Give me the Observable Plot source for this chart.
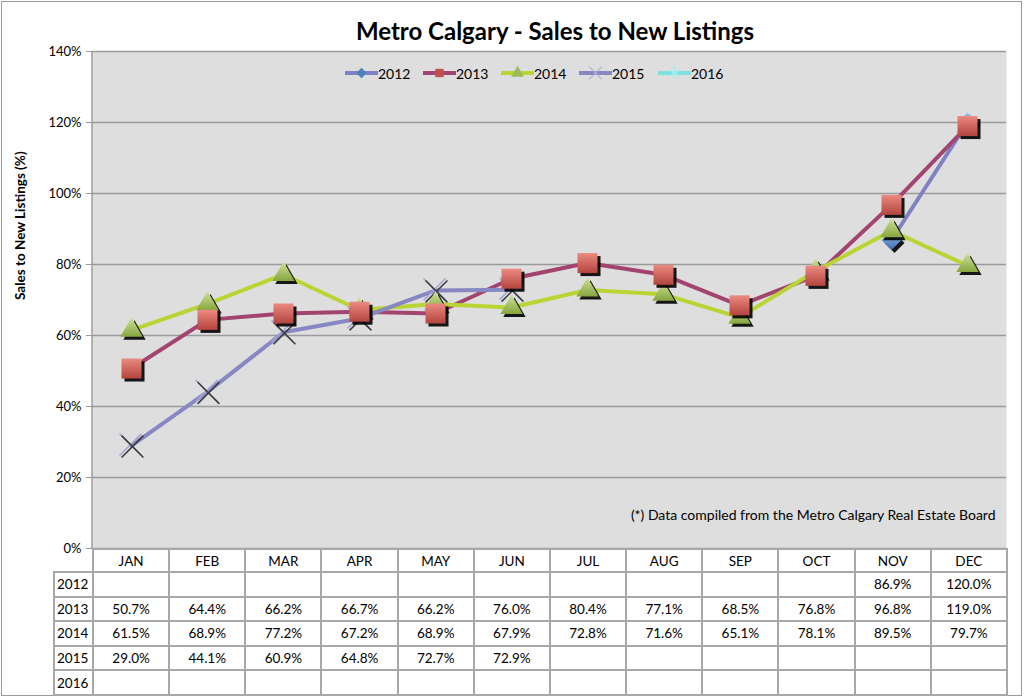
<!DOCTYPE html>
<html>
<head>
<meta charset="utf-8">
<script src="https://cdn.jsdelivr.net/npm/d3@7"></script>
<script src="https://cdn.jsdelivr.net/npm/@observablehq/plot@0.6"></script>
<style>
  html, body { margin: 0; padding: 0; background: #fff; }
  body { width: 1024px; height: 697px; position: relative; overflow: hidden; font-family: Lato, "DejaVu Sans", sans-serif; }
  #border { position: absolute; left: 1px; top: 1px; width: 1019px; height: 693px; border: 1.5px solid #9a9a9a; box-sizing: content-box; }
  #chart { position: absolute; left: 0; top: 0; }
  #title { position: absolute; left: 92px; width: 926px; top: 16px; text-align: center; font-size: 24px; font-weight: bold; color: #000; }
  #legend { position: absolute; top: 64px; left: 0; width: 1024px; height: 18px; }
  .li { position: absolute; top: 0; height: 18px; display: flex; align-items: center; font-size: 14px; color: #000; }
  .li svg { display: block; }
  #table { position: absolute; left: 53px; top: 548px; }
  table { border-collapse: collapse; table-layout: fixed; font-size: 13.5px; font-family: Lato, sans-serif; }
  td { border: 2px solid #a8a8a8; padding: 0; text-align: center; white-space: nowrap; overflow: hidden; }
  td.lab { text-align: left; padding-left: 2px; }
  td.blank { border: none; }
  tr.head td { height: 21px; }
  tr.row td { height: 22.6px; }
</style>
</head>
<body>
<div id="border"></div>
<div id="chart"></div>
<div id="title">Metro Calgary - Sales to New Listings</div>
<div id="legend"></div>
<div id="table"></div>
<script>
// ---------- data ----------
const months = ["JAN","FEB","MAR","APR","MAY","JUN","JUL","AUG","SEP","OCT","NOV","DEC"];
const years = ["2012","2013","2014","2015","2016"];
const v2012 = [null,null,null,null,null,null,null,null,null,null,86.9,120.0];
const v2013 = [50.7,64.4,66.2,66.7,66.2,76.0,80.4,77.1,68.5,76.8,96.8,119.0];
const v2014 = [61.5,68.9,77.2,67.2,68.9,67.9,72.8,71.6,65.1,78.1,89.5,79.7];
const v2015 = [29.0,44.1,60.9,64.8,72.7,72.9,null,null,null,null,null,null];
const v2016 = [null,null,null,null,null,null,null,null,null,null,null,null];
const yTicks = [0,20,40,60,80,100,120,140];
const yLabel = "Sales to New Listings (%)";
const note = "(*) Data compiled from the Metro Calgary Real Estate Board";

const seriesValues = {"2012": v2012, "2013": v2013, "2014": v2014, "2015": v2015, "2016": v2016};
const rowsOf = (y) => seriesValues[y].map((v, i) => ({month: months[i], value: v, year: y})).filter(d => d.value != null);

// ---------- styles ----------
const lineColor = {"2012": "#7f82c2", "2013": "#a2446f", "2014": "#b8d534", "2015": "#8687c3", "2016": "#7fe0e0"};
const markFill = {"2012": "#4f81bd", "2013": "#c0504d", "2014": "#9bbb59"};

const lw = 4;
const marks = [
  Plot.frame({fill: "#dedede", stroke: null}),
  Plot.gridY(yTicks, {stroke: "#9a9a9a", strokeOpacity: 1, strokeWidth: 1.5}),
  Plot.axisY(yTicks, {tickFormat: d => d + "%", tickSize: 6, tickPadding: 5, fontSize: 13, label: null, stroke: "#9a9a9a"}),
  Plot.text([yLabel], {text: d => d, frameAnchor: "left", rotate: -90, dx: -72, fontWeight: "bold", fontSize: 13.5}),
  Plot.text([note], {text: d => d, frameAnchor: "bottom-right", textAnchor: "end", lineAnchor: "middle", dx: -11, dy: -33, fontSize: 14}),
];
for (const y of years) {
  const r = rowsOf(y);
  if (r.length) marks.push(Plot.line(r, {x: "month", y: "value", stroke: lineColor[y], strokeWidth: lw, strokeLinejoin: "round"}));
}
const shadow = (data, symbol, r) => Plot.dot(data, {x: "month", y: "value", symbol, r, fill: "#000", stroke: null, dx: 3, dy: 3, fillOpacity: 0.9});
marks.push(shadow(rowsOf("2012"), "diamond2", 9));
marks.push(Plot.dot(rowsOf("2012"), {x: "month", y: "value", symbol: "diamond2", r: 9, fill: markFill["2012"], stroke: null, className: "m2012"}));
marks.push(Plot.dot(rowsOf("2015"), {x: "month", y: "value", symbol: "times", r: 10, stroke: "#a5a6d6", strokeWidth: 1.5, dx: -1, dy: -1}));
marks.push(Plot.dot(rowsOf("2015"), {x: "month", y: "value", symbol: "times", r: 10, stroke: "#3a3a3a", strokeWidth: 1.5, dx: 1, dy: 1}));
marks.push(shadow(rowsOf("2014"), "triangle", 8.3));
marks.push(Plot.dot(rowsOf("2014"), {x: "month", y: "value", symbol: "triangle", r: 8.3, fill: markFill["2014"], stroke: null, className: "m2014"}));
marks.push(shadow(rowsOf("2013"), "square", 11.3));
marks.push(Plot.dot(rowsOf("2013"), {x: "month", y: "value", symbol: "square", r: 11.3, fill: markFill["2013"], stroke: null, className: "m2013"}));

const chart = Plot.plot({
  width: 1024, height: 560,
  marginLeft: 92, marginRight: 18, marginTop: 51, marginBottom: 12,
  style: {fontFamily: "Lato, sans-serif", fontSize: "13px", background: "transparent", color: "#000"},
  x: {type: "point", domain: months, padding: 0.5, axis: null},
  y: {domain: [0, 140], axis: null},
  marks
});
document.getElementById("chart").appendChild(chart);

const svg = d3.select(chart);
const defs = svg.insert("defs", ":first-child");
const grads = {g2013: ["#eb8a80", "#b4443f"], g2014: ["#cfe39a", "#86a63e"], g2012: ["#9dc0ec", "#3b6fb3"]};
for (const [id, [c0, c1]] of Object.entries(grads)) {
  const g = defs.append("linearGradient").attr("id", id).attr("x1", 0).attr("y1", 0).attr("x2", 0).attr("y2", 1);
  g.append("stop").attr("offset", "0%").attr("stop-color", c0);
  g.append("stop").attr("offset", "100%").attr("stop-color", c1);
}
svg.selectAll(".m2013 path").attr("fill", "url(#g2013)");
svg.selectAll(".m2014 path").attr("fill", "url(#g2014)");
svg.selectAll(".m2012 path").attr("fill", "url(#g2012)");
svg.append("line").attr("x1", 92).attr("x2", 92).attr("y1", 51).attr("y2", 548).attr("stroke", "#9a9a9a").attr("stroke-width", 1.5);

// ---------- legend ----------
const legendX = [345, 423, 501, 579, 658];
const legendSym = {"2012": "diamond2", "2013": "square", "2014": "triangle", "2015": "times", "2016": "asterisk"};
const symMap = {diamond2: d3.symbolDiamond2, square: d3.symbolSquare, triangle: d3.symbolTriangle, times: d3.symbolTimes, asterisk: d3.symbolAsterisk};
const legend = d3.select("#legend");
years.forEach((y, i) => {
  const item = legend.append("div").attr("class", "li").style("left", legendX[i] + "px");
  const s = item.append("svg").attr("width", 33).attr("height", 18);
  s.append("line").attr("x1", 0).attr("x2", 33).attr("y1", 9).attr("y2", 9).attr("stroke", lineColor[y]).attr("stroke-width", 4);
  const sym = legendSym[y];
  const p = s.append("path").attr("transform", "translate(16.5,9)").attr("d", d3.symbol(symMap[sym], sym === "times" || sym === "asterisk" ? 110 : 70)());
  if (sym === "times" || sym === "asterisk") p.attr("fill", "none").attr("stroke", sym === "times" ? "#b0b0dc" : "#a0f0f0").attr("stroke-width", 1.2);
  else p.attr("fill", markFill[y]);
  item.append("span").text(y);
});

// ---------- table ----------
const colW = (1006 - 92) / 12;
const table = d3.select("#table").append("table").style("width", (39 + colW * 12) + "px");
const cg = table.append("colgroup");
cg.append("col").style("width", "39px");
months.forEach(() => cg.append("col").style("width", colW + "px"));
const head = table.append("tr").attr("class", "head");
head.append("td").attr("class", "blank");
months.forEach(m => head.append("td").text(m));
years.forEach(y => {
  const tr = table.append("tr").attr("class", "row");
  tr.append("td").attr("class", "lab").text(y);
  seriesValues[y].forEach(v => tr.append("td").text(v == null ? "" : v.toFixed(1) + "%"));
});
</script>
</body>
</html>
